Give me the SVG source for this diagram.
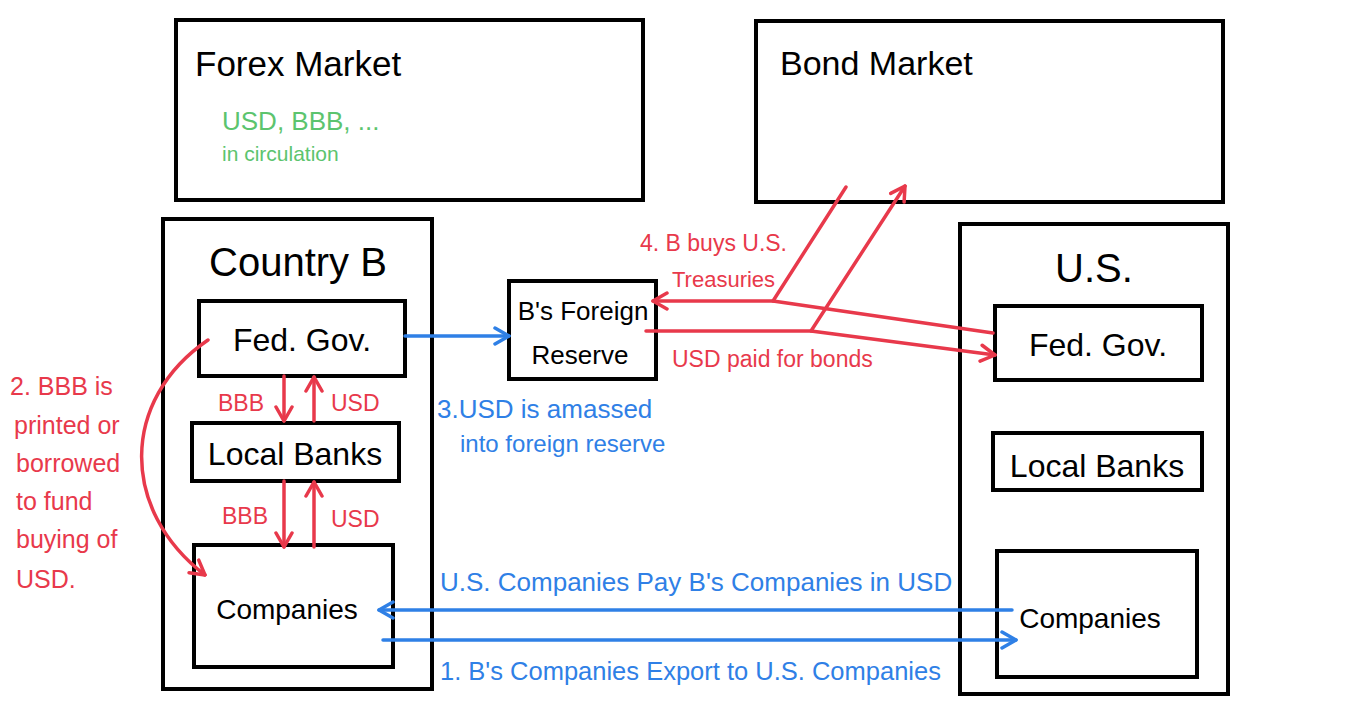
<svg xmlns="http://www.w3.org/2000/svg" width="1355" height="701" viewBox="0 0 1355 701">
<defs>
<style>
.box{fill:#fff;stroke:#000;stroke-width:4}
.t{font-family:"Liberation Sans",Arial,sans-serif;fill:#000}
.red{font-family:"Liberation Sans",Arial,sans-serif;fill:#e8394b}
.blue{font-family:"Liberation Sans",Arial,sans-serif;fill:#2f80e6}
.green{font-family:"Liberation Sans",Arial,sans-serif;fill:#5cc46e}
.rl{fill:none;stroke:#e8394b;stroke-width:3.5;stroke-linecap:round;stroke-linejoin:round}
.bl{fill:none;stroke:#2f80e6;stroke-width:3.5;stroke-linecap:round;stroke-linejoin:round}
</style>
<marker id="ar" viewBox="0 0 20 20" refX="18" refY="10" markerWidth="20" markerHeight="20" markerUnits="userSpaceOnUse" orient="auto">
<polyline points="4,2 18,10 4,18" fill="none" stroke="#e8394b" stroke-width="3.5" stroke-linecap="round" stroke-linejoin="round"/>
</marker>
<marker id="ab" viewBox="0 0 20 20" refX="18" refY="10" markerWidth="20" markerHeight="20" markerUnits="userSpaceOnUse" orient="auto">
<polyline points="4,2 18,10 4,18" fill="none" stroke="#2f80e6" stroke-width="3.5" stroke-linecap="round" stroke-linejoin="round"/>
</marker>
</defs>
<rect width="1355" height="701" fill="#fff"/>

<g id="forex">
<rect class="box" x="176" y="20" width="467" height="180"/>
<text class="t" x="195" y="76" font-size="35">Forex Market</text>
<text class="green" x="222" y="130" font-size="26">USD, BBB, ...</text>
<text class="green" x="222" y="161" font-size="21">in circulation</text>
</g>

<g id="bond">
<rect class="box" x="756" y="21" width="467" height="181"/>
<text class="t" x="780" y="75" font-size="34">Bond Market</text>
</g>

<g id="countryB">
<rect class="box" x="163" y="219" width="269" height="470"/>
<text class="t" x="298" y="276" font-size="40" text-anchor="middle">Country B</text>
</g>

<g id="us">
<rect class="box" x="960" y="224" width="268" height="470"/>
<text class="t" x="1094" y="282" font-size="40" text-anchor="middle">U.S.</text>
</g>

<g id="b-fedgov">
<rect class="box" x="199" y="301" width="206" height="75"/>
<text class="t" x="302" y="351" font-size="32" text-anchor="middle">Fed. Gov.</text>
</g>
<g id="b-banks">
<rect class="box" x="192" y="423" width="207" height="58"/>
<text class="t" x="295" y="465" font-size="32" text-anchor="middle">Local Banks</text>
</g>
<g id="b-companies">
<rect class="box" x="194" y="545" width="199" height="122"/>
<text class="t" x="287" y="619" font-size="28" text-anchor="middle">Companies</text>
</g>

<g id="reserve">
<rect class="box" x="509" y="281" width="147" height="98"/>
<text class="t" x="583" y="320" font-size="26" text-anchor="middle">B's Foreign</text>
<text class="t" x="580" y="364" font-size="26" text-anchor="middle">Reserve</text>
</g>

<g id="us-fedgov">
<rect class="box" x="995" y="306" width="207" height="74"/>
<text class="t" x="1098" y="356" font-size="32" text-anchor="middle">Fed. Gov.</text>
</g>
<g id="us-banks">
<rect class="box" x="993" y="433" width="209" height="57"/>
<text class="t" x="1097" y="477" font-size="32" text-anchor="middle">Local Banks</text>
</g>
<g id="us-companies">
<rect class="box" x="997" y="551" width="200" height="126"/>
<text class="t" x="1090" y="628" font-size="28" text-anchor="middle">Companies</text>
</g>

<g id="connectors">
<line class="bl" x1="405" y1="336" x2="509" y2="336" marker-end="url(#ab)"/>
<line class="rl" x1="284" y1="376" x2="284" y2="421" marker-end="url(#ar)"/>
<line class="rl" x1="314" y1="421" x2="314" y2="377" marker-end="url(#ar)"/>
<line class="rl" x1="284" y1="481" x2="284" y2="547" marker-end="url(#ar)"/>
<line class="rl" x1="314" y1="547" x2="314" y2="482" marker-end="url(#ar)"/>
<path class="rl" d="M208 340 C120 400 120 510 205 575" marker-end="url(#ar)"/>
<path class="rl" d="M993 333 L773 301 L653 301" marker-end="url(#ar)"/>
<line class="rl" x1="773" y1="301" x2="846" y2="187"/>
<path class="rl" d="M646 331 L811 331 L995 355" marker-end="url(#ar)"/>
<line class="rl" x1="811" y1="331" x2="905" y2="186" marker-end="url(#ar)"/>
<line class="bl" x1="1012" y1="610" x2="379" y2="610" marker-end="url(#ab)"/>
<line class="bl" x1="383" y1="640" x2="1016" y2="640" marker-end="url(#ab)"/>
</g>

<g id="labels">
<text class="red" font-size="25"><tspan x="10" y="395">2. BBB is</tspan><tspan x="14" y="434">printed or</tspan><tspan x="16" y="472">borrowed</tspan><tspan x="16" y="510">to fund</tspan><tspan x="16" y="548">buying of</tspan><tspan x="16" y="588">USD.</tspan></text>
<text class="red" x="218" y="411" font-size="23">BBB</text>
<text class="red" x="331" y="411" font-size="23">USD</text>
<text class="red" x="222" y="524" font-size="23">BBB</text>
<text class="red" x="331" y="527" font-size="23">USD</text>
<text class="red" x="640" y="251" font-size="23">4. B buys U.S.</text>
<text class="red" x="672" y="287" font-size="22">Treasuries</text>
<text class="red" x="672" y="367" font-size="23">USD paid for bonds</text>
<text class="blue" x="437" y="418" font-size="26">3.USD is amassed</text>
<text class="blue" x="460" y="452" font-size="24">into foreign reserve</text>
<text class="blue" x="440" y="591" font-size="26">U.S. Companies Pay B's Companies in USD</text>
<text class="blue" x="440" y="680" font-size="25.5">1. B's Companies Export to U.S. Companies</text>
</g>
</svg>
